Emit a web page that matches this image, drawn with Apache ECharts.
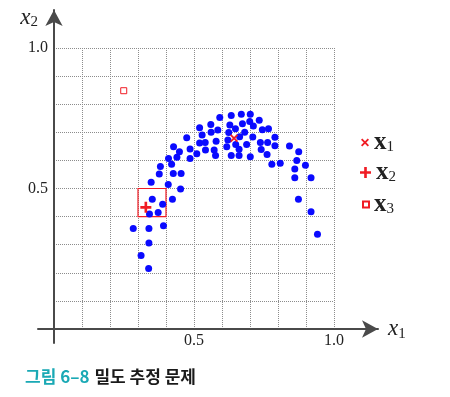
<!DOCTYPE html>
<html>
<head>
<meta charset="utf-8">
<script src="https://cdn.jsdelivr.net/npm/echarts@6/dist/echarts.min.js"></script>
<style>
  html, body { margin: 0; padding: 0; background: #fff; }
  #chart { width: 450px; height: 397px; }
</style>
</head>
<body>
<div id="chart"></div>
<script>
// sample points (blue dots)
var dataX = [0.338, 0.311, 0.339, 0.283, 0.339, 0.391, 0.341, 0.372, 0.388, 0.351,
             0.423, 0.347, 0.408, 0.452, 0.376, 0.426, 0.454, 0.380, 0.420, 0.409,
             0.439, 0.486, 0.448, 0.427, 0.486, 0.510, 0.474, 0.520, 0.540, 0.541,
             0.572, 0.577, 0.579, 0.529, 0.520, 0.561, 0.585, 0.560, 0.592, 0.633,
             0.669, 0.701, 0.628, 0.673, 0.699, 0.733, 0.712, 0.648, 0.744, 0.766,
             0.681, 0.621, 0.663, 0.710, 0.789, 0.617, 0.649, 0.688, 0.737, 0.763,
             0.789, 0.841, 0.874, 0.661, 0.740, 0.633, 0.661, 0.701, 0.761, 0.867,
             0.778, 0.808, 0.898, 0.860, 0.860, 0.918, 0.873, 0.918, 0.941, 0.624];
var dataY = [0.215, 0.262, 0.306, 0.358, 0.358, 0.367, 0.409, 0.415, 0.444, 0.462,
             0.462, 0.522, 0.514, 0.498, 0.552, 0.553, 0.553, 0.578, 0.586, 0.607,
             0.611, 0.607, 0.631, 0.649, 0.641, 0.624, 0.681, 0.662, 0.664, 0.637,
             0.637, 0.617, 0.668, 0.690, 0.716, 0.700, 0.708, 0.728, 0.753, 0.760,
             0.764, 0.764, 0.726, 0.730, 0.738, 0.743, 0.722, 0.713, 0.709, 0.713,
             0.700, 0.673, 0.684, 0.683, 0.682, 0.649, 0.657, 0.657, 0.664, 0.664,
             0.652, 0.651, 0.631, 0.640, 0.639, 0.617, 0.617, 0.613, 0.621, 0.600,
             0.586, 0.590, 0.583, 0.569, 0.538, 0.538, 0.462, 0.417, 0.337, 0.699];

// query points x1, x2, x3
var queryNames = ['x1', 'x2', 'x3'];
var queryX = [0.643, 0.328, 0.249];
var queryY = [0.679, 0.433, 0.848];

// window around x2
var boxX = [0.3, 0.4];
var boxY = [0.4, 0.5];

var tickLabels = { '0.5': '0.5', '1': '1.0' };

var serif = '"Liberation Serif", "DejaVu Serif", serif';
var red = '#f01c24';
var crossPath = 'path://M0,1.6L1.6,0L5,3.4L8.4,0L10,1.6L6.6,5L10,8.4L8.4,10L5,6.6L1.6,10L0,8.4L3.4,5Z';
var plusPath = 'path://M3.8,0H6.2V3.8H10V6.2H6.2V10H3.8V6.2H0V3.8H3.8Z';

function pairs(xs, ys) {
    return xs.map(function (x, i) { return [x, ys[i]]; });
}

function tickFmt(v) {
    var k = String(Math.round(v * 10) / 10);
    return tickLabels[k] || '';
}

var legendRich = {
    b: { fontFamily: serif, fontWeight: 'bold', fontSize: 25, color: '#222', lineHeight: 26 },
    s: { fontFamily: serif, fontSize: 15, color: '#222', lineHeight: 26, padding: [10, 0, 0, 0] }
};

function oneLegend(name, size, left, top, gap) {
    return {
        data: [name],
        orient: 'vertical',
        left: left,
        top: top,
        itemWidth: size,
        itemHeight: size,
        itemGap: 0,
        itemTextGap: gap,
        selectedMode: false,
        formatter: function (n) { return '{b|x}{s|' + n.slice(1) + '}'; },
        textStyle: { rich: legendRich }
    };
}

var myChart = echarts.init(document.getElementById('chart'));

var option = {
    animation: false,
    title: {
        text: '{a|그림 6–8} {b|밀도 추정 문제}',
        left: 20,
        top: 363,
        textStyle: {
            rich: {
                a: { fontFamily: '"Noto Sans CJK KR"', fontWeight: 'bold', fontSize: 17, color: '#1aa9b5' },
                b: { fontFamily: '"Noto Sans CJK KR"', fontWeight: 'bold', fontSize: 17, color: '#1a1a1a' }
            }
        }
    },
    legend: [
        oneLegend('x1', 8, 356, 125, 19),
        oneLegend('x2', 11, 355, 155, 17),
        oneLegend('x3', 6, 357, 187, 20)
    ],
    grid: [
        { left: 54, top: 48, width: 280, height: 281 },
        { left: 38, top: 10, width: 340, height: 333 }
    ],
    xAxis: [
        {
            gridIndex: 0, type: 'value', min: 0, max: 1, interval: 0.1,
            axisLine: { show: false }, axisTick: { show: false },
            splitLine: { lineStyle: { color: '#8c8c8c', type: 'dotted', width: 1 } },
            axisLabel: { formatter: tickFmt, margin: 4, fontFamily: serif, fontSize: 16, color: '#222' }
        },
        {
            gridIndex: 1, type: 'value', min: -0.0571, max: 1.1571,
            axisLine: { onZero: true, symbol: ['none', 'arrow'], symbolSize: [13, 16],
                        lineStyle: { color: '#4a4a4a', width: 2 } },
            axisTick: { show: false }, axisLabel: { show: false }, splitLine: { show: false },
            name: '{i|x}{s|1}', nameLocation: 'end', nameGap: 10,
            nameTextStyle: {
                align: 'left', verticalAlign: 'middle',
                rich: {
                    i: { fontFamily: serif, fontStyle: 'italic', fontSize: 23, color: '#222' },
                    s: { fontFamily: serif, fontSize: 15, color: '#222', padding: [10, 0, 0, 0] }
                }
            }
        }
    ],
    yAxis: [
        {
            gridIndex: 0, type: 'value', min: 0, max: 1, interval: 0.1,
            axisLine: { show: false }, axisTick: { show: false },
            splitLine: { lineStyle: { color: '#8c8c8c', type: 'dotted', width: 1 } },
            axisLabel: { formatter: tickFmt, margin: 6, fontFamily: serif, fontSize: 16, color: '#222' }
        },
        {
            gridIndex: 1, type: 'value', min: -0.0498, max: 1.1352,
            axisLine: { onZero: true, symbol: ['none', 'arrow'], symbolSize: [13, 16],
                        lineStyle: { color: '#4a4a4a', width: 2 } },
            axisTick: { show: false }, axisLabel: { show: false }, splitLine: { show: false },
            name: '{i|x}{s|2}', nameLocation: 'end', nameGap: 5,
            nameTextStyle: {
                align: 'right', verticalAlign: 'top', padding: [0, 16, 0, 0],
                rich: {
                    i: { fontFamily: serif, fontStyle: 'italic', fontSize: 23, color: '#222' },
                    s: { fontFamily: serif, fontSize: 15, color: '#222', padding: [10, 0, 0, 0] }
                }
            }
        }
    ],
    series: [
        {
            name: 'data', type: 'scatter', xAxisIndex: 0, yAxisIndex: 0,
            symbolSize: 7, itemStyle: { color: '#0a0aff', opacity: 1 },
            data: pairs(dataX, dataY)
        },
        {
            name: queryNames[0], type: 'scatter', xAxisIndex: 0, yAxisIndex: 0,
            symbol: crossPath, symbolSize: 8, itemStyle: { color: red, opacity: 1 },
            data: [[queryX[0], queryY[0]]]
        },
        {
            name: queryNames[1], type: 'scatter', xAxisIndex: 0, yAxisIndex: 0,
            symbol: plusPath, symbolSize: 11, itemStyle: { color: red, opacity: 1 },
            data: [[queryX[1], queryY[1]]],
            markArea: {
                silent: true,
                itemStyle: { color: 'rgba(0,0,0,0)', borderColor: red, borderWidth: 1.2 },
                data: [[{ coord: [boxX[0], boxY[1]] }, { coord: [boxX[1], boxY[0]] }]]
            }
        },
        {
            name: queryNames[2], type: 'scatter', xAxisIndex: 0, yAxisIndex: 0,
            symbol: 'rect', symbolSize: 6,
            itemStyle: { color: '#fff', borderColor: red, borderWidth: 1, opacity: 1 },
            data: [[queryX[2], queryY[2]]]
        }
    ]
};

myChart.setOption(option);
</script>
</body>
</html>
